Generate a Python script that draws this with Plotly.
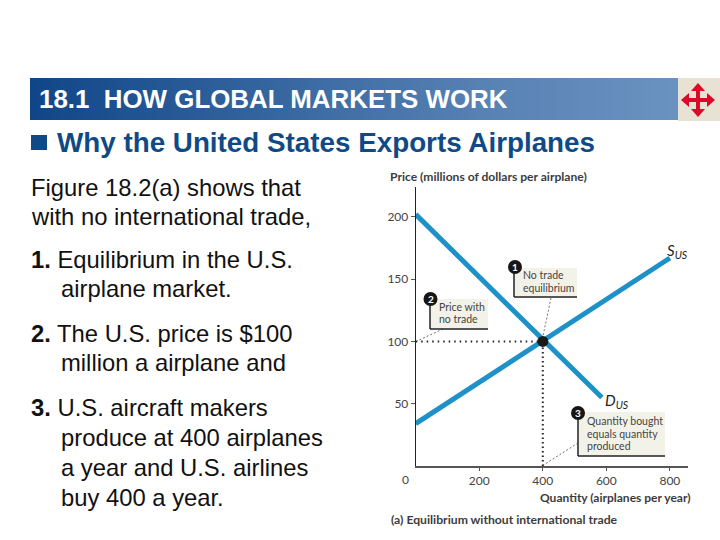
import plotly.graph_objects as go

WIDTH = 720
HEIGHT = 540

# chart values
demand_q = [0, 586]
demand_p = [202, 55]
supply_q = [0, 800]
supply_p = [34, 167]
eq_q = [400]
eq_p = [100]
x_ticks = [200, 400, 600, 800]
y_ticks = [50, 100, 150, 200]

header = "18.1  HOW GLOBAL MARKETS WORK"
subhead = "Why the United States Exports Airplanes"
body_lines = [
    ("Figure 18.2(a) shows that", 30, 187),
    ("with no international trade,", 30, 216),
    ("<b>1.</b> Equilibrium in the U.S.", 30, 259),
    ("airplane market.", 60, 288),
    ("<b>2.</b> The U.S. price is $100", 30, 333),
    ("million a airplane and", 60, 362),
    ("<b>3.</b> U.S. aircraft makers", 30, 407),
    ("produce at 400 airplanes", 60, 437),
    ("a year and U.S. airlines", 60, 467),
    ("buy 400 a year.", 60, 497),
]

# callouts: badge, box (left, top, right, bottom), text lines
callouts = [
    ("1", (515, 267), (514, 268, 577, 297), [("No trade", 522, 275), ("equilibrium", 522, 288)]),
    ("2", (430.5, 299), (430, 299, 488, 329), [("Price with", 438, 307), ("no trade", 438, 319)]),
    ("3", (578, 413), (578, 412, 665, 456), [("Quantity bought", 586, 421), ("equals quantity", 586, 434), ("produced", 586, 446)]),
]
leaders = [((551, 298), (543, 336)), ((443, 329), (417, 341)), ((578, 443), (542, 466))]

BLUE = "#1e92c8"
INK = "#3c3c3c"
NAVY = "#0f4a86"
BODY_FONT = "Liberation Sans"
CHART_FONT = "Lato"


def px(x):
    return x / WIDTH


def py(y):
    return 1 - y / HEIGHT


def mix(a, b, t):
    return tuple(round(a[i] + (b[i] - a[i]) * t) for i in range(3))


def page_text(fig, text, x, y, size, color="#111111", family=BODY_FONT, anchor="left"):
    # fixed box width so the text starts exactly at x
    box = {"width": len(text) * size * 0.75, "align": "left"} if anchor == "left" else {}
    fig.add_annotation(text=text, x=px(x), y=py(y), xref="paper", yref="paper",
                       xanchor=anchor, yanchor="middle", showarrow=False, borderpad=0,
                       font=dict(size=size, color=color, family=family), **box)


def page_rect(fig, x0, y0, x1, y1, fill, line_width=0, line_color=None, layer="below"):
    fig.add_shape(type="rect", xref="paper", yref="paper", layer=layer,
                  x0=px(x0), x1=px(x1), y0=py(y0), y1=py(y1), fillcolor=fill,
                  line=dict(width=line_width, color=line_color))


def page_line(fig, a, b, width=1, color=INK, dash="solid"):
    fig.add_shape(type="line", xref="paper", yref="paper", layer="above",
                  x0=px(a[0]), y0=py(a[1]), x1=px(b[0]), y1=py(b[1]),
                  line=dict(width=width, color=color, dash=dash))


fig = go.Figure()

fig.add_trace(go.Scatter(x=demand_q, y=demand_p, mode="lines", line=dict(color=BLUE, width=5)))
fig.add_trace(go.Scatter(x=supply_q, y=supply_p, mode="lines", line=dict(color=BLUE, width=5)))
# dotted guides up to the equilibrium
fig.add_trace(go.Scatter(x=[0, eq_q[0]], y=[eq_p[0], eq_p[0]], mode="lines",
                         line=dict(color="#222222", width=2, dash="1.5px 4px")))
fig.add_trace(go.Scatter(x=[eq_q[0], eq_q[0]], y=[0, eq_p[0]], mode="lines",
                         line=dict(color="#222222", width=2, dash="1.5px 3px")))
fig.add_trace(go.Scatter(x=eq_q, y=eq_p, mode="markers", marker=dict(color="#1a1a1a", size=11)))

# header band, stepped gradient
left, mid, right = (16, 70, 136), (88, 130, 180), (107, 147, 193)
for i in range(0, 648, 6):
    t = i / 648
    c = mix(left, mid, t / 0.7) if t < 0.7 else mix(mid, right, (t - 0.7) / 0.3)
    page_rect(fig, 30 + i, 78, 30 + i + 6.5, 120, f"rgb{c}")

# navigation button
page_rect(fig, 678, 78, 720, 121, "#e8e2d4")
cx, cy = 698, 100
arm = [(0, -17), (7, -9), (2, -9), (2, -2), (9, -2), (9, -7), (17, 0), (9, 7), (9, 2),
       (2, 2), (2, 9), (7, 9), (0, 17), (-7, 9), (-2, 9), (-2, 2), (-9, 2), (-9, 7),
       (-17, 0), (-9, -7), (-9, -2), (-2, -2), (-2, -9), (-7, -9)]
path = "M " + " L ".join(f"{px(cx + a)},{py(cy + b)}" for a, b in arm) + " Z"
fig.add_shape(type="path", xref="paper", yref="paper", path=path, fillcolor="#dc0a28", line_width=0)

page_text(fig, f"<b>{header}</b>", 38, 99, 25.9, color="white")
page_rect(fig, 31, 135, 47, 150, NAVY)
page_text(fig, f"<b>{subhead}</b>", 56, 142, 27.8, color=NAVY)
for text, x, y in body_lines:
    page_text(fig, text, x, y, 23.8)

# chart captions
page_text(fig, "<b>Price (millions of dollars per airplane)</b>", 389, 176, 12.1, INK, CHART_FONT)
page_text(fig, "<b>Quantity (airplanes per year)</b>", 539, 497, 12, INK, CHART_FONT)
page_text(fig, "<b>(a) Equilibrium without international trade</b>", 390, 519, 12.2, INK, CHART_FONT)
page_text(fig, "<i>S<sub>US</sub></i>", 666, 251, 15, "#222222", CHART_FONT)
page_text(fig, "<i>D<sub>US</sub></i>", 604, 401, 15, "#222222", CHART_FONT)
page_text(fig, "0", 405, 479, 12, "#444444", CHART_FONT, anchor="center")

for badge, centre, box, lines in callouts:
    x0, y0, x1, y1 = box
    page_rect(fig, x0, y0, x1, y1, "#f3f2e9", layer="above")
    page_line(fig, (x0, y0), (x0, y1), 1.5, "#222222")
    page_line(fig, (x0, y1), (x1, y1), 1.5, "#222222")
    for text, x, y in lines:
        page_text(fig, text, x, y, 10.5, "#444444", CHART_FONT)
    fig.add_shape(type="circle", xref="paper", yref="paper", layer="above",
                  x0=px(centre[0] - 7), x1=px(centre[0] + 7),
                  y0=py(centre[1] - 7), y1=py(centre[1] + 7),
                  fillcolor="#161616", line_width=0)
    page_text(fig, f"<b>{badge}</b>", centre[0], centre[1], 10, "white", CHART_FONT, anchor="center")

for a, b in leaders:
    page_line(fig, a, b, 0.7, "#333333", "2px 2px")

fig.update_layout(
    width=WIDTH, height=HEIGHT, margin=dict(l=0, r=0, t=0, b=0),
    paper_bgcolor="white", plot_bgcolor="rgba(0,0,0,0)", showlegend=False,
    font=dict(family=CHART_FONT, size=12, color="#444444"),
    xaxis=dict(domain=[px(415.7), px(688)], range=[0, 857], tickvals=x_ticks,
               ticks="outside", ticklen=3, tickcolor="#555555", showgrid=False, zeroline=False,
               showline=True, linecolor="#555555", linewidth=1.5),
    yaxis=dict(domain=[py(466), py(187)], range=[0, 224], tickvals=y_ticks,
               ticks="outside", ticklen=4, tickcolor="#555555", showgrid=False, zeroline=False,
               showline=True, linecolor="#222222", linewidth=1),
)

fig.write_html("out.html", config={"displayModeBar": False},
               post_script="document.body.style.margin = '0';")
